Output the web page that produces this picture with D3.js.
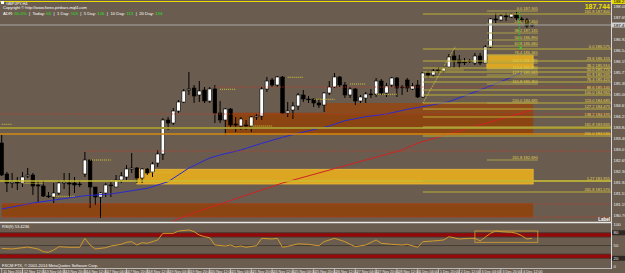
<!DOCTYPE html>
<html>
<head>
<meta charset="utf-8">
<script src="https://cdn.jsdelivr.net/npm/d3@7"></script>
<style>
  body { margin: 0; background: #6a5d4f; overflow: hidden; }
  svg { display: block; }
  text { font-family: "Liberation Sans", Arial, sans-serif; }
</style>
</head>
<body>
<div id="plot"></div>
<script>
// GBPJPY H4 candles
var opens  = [183.285,182.200,181.885,181.920,181.885,182.130,182.165,181.815,181.780,181.430,181.395,181.535,181.885,181.885,181.885,181.850,182.200,182.690,181.745,181.395,181.535,181.815,181.745,181.990,182.095,182.375,182.410,182.060,182.375,182.270,182.585,182.900,184.090,183.985,184.405,184.720,185.140,185.210,184.965,185.140,184.755,185.175,184.335,184.090,184.475,183.950,183.880,183.915,183.880,184.195,184.230,185.175,185.490,185.315,185.595,184.335,184.440,184.580,184.965,184.825,184.825,184.685,184.615,185.035,185.245,185.595,185.315,184.965,185.175,184.755,184.860,185.000,185.000,185.455,185.035,185.315,185.560,185.245,185.490,185.175,185.315,184.895,185.735,185.665,185.840,185.805,185.945,186.330,186.190,186.120,186.155,186.085,186.330,186.085,186.645,187.625,187.590,187.730,187.695,187.765,187.625,187.590,187.415];
var highs  = [183.565,182.270,182.235,182.095,182.270,182.410,182.235,181.990,181.990,181.570,181.885,181.990,182.235,182.235,182.095,181.990,182.970,182.725,181.745,181.570,181.885,181.920,182.165,182.270,182.515,182.935,182.445,182.410,182.410,182.620,183.040,184.160,184.195,184.510,184.790,185.175,185.770,185.315,185.455,185.245,185.245,185.315,184.755,184.510,184.510,184.195,184.195,184.090,184.230,184.300,185.245,185.595,185.560,185.630,185.630,184.720,184.720,185.035,185.140,184.930,184.860,184.825,185.070,185.455,185.735,185.630,185.420,185.245,185.210,184.965,185.070,185.175,185.560,185.525,185.385,185.595,185.595,185.315,185.560,185.385,185.490,185.770,185.805,185.875,185.945,185.980,186.400,186.540,186.365,186.260,186.225,186.435,186.435,186.715,187.660,187.835,187.800,187.835,187.835,187.870,187.695,187.660,187.485];
var lows   = [182.130,181.570,181.710,181.640,181.745,182.060,181.465,181.220,181.395,181.360,181.185,181.465,181.675,181.395,181.535,181.745,182.095,181.010,181.115,180.660,181.395,181.395,181.745,181.885,181.990,182.235,181.885,181.885,182.165,182.095,182.445,182.690,183.740,183.915,184.335,184.685,184.965,184.685,184.720,184.685,184.685,183.985,183.985,183.565,183.810,183.670,183.740,183.740,183.670,184.090,184.090,185.070,185.245,185.245,184.300,184.195,184.125,184.440,184.720,184.685,184.545,184.510,184.370,184.965,185.210,185.245,184.860,184.860,184.615,184.685,184.685,184.860,184.895,184.965,184.895,185.245,184.895,184.965,185.070,185.140,184.860,184.860,185.560,185.595,185.735,185.735,185.910,185.910,185.910,186.015,186.085,186.015,186.015,186.085,186.610,187.485,187.555,187.555,187.660,187.555,187.520,187.310,187.345];
var closes = [182.165,181.885,181.920,181.885,182.095,182.165,181.780,181.780,181.430,181.430,181.535,181.885,181.920,181.850,181.815,181.850,182.690,181.745,181.395,181.535,181.815,181.815,181.990,182.130,182.375,182.410,182.060,182.375,182.235,182.550,182.900,184.090,183.985,184.405,184.720,185.105,185.175,184.930,185.105,184.755,185.175,184.335,184.090,184.475,183.915,183.915,184.125,183.915,184.195,184.230,185.175,185.455,185.315,185.595,184.335,184.405,184.580,184.965,184.825,184.825,184.685,184.615,185.035,185.245,185.595,185.315,184.965,185.175,184.755,184.895,185.000,185.000,185.455,185.035,185.280,185.560,185.210,185.245,185.210,185.280,184.895,185.735,185.665,185.805,185.840,185.910,186.295,186.155,186.085,186.120,186.155,186.330,186.085,186.645,187.625,187.590,187.730,187.730,187.800,187.660,187.625,187.380,187.415];

// time axis labels (one every 4 bars)
var timeLabels = ["11 Nov 2014","12 Nov 12:00","13 Nov 04:00","13 Nov 20:00","14 Nov 12:00","17 Nov 04:00","17 Nov 20:00","18 Nov 12:00","19 Nov 04:00","19 Nov 20:00","20 Nov 12:00","21 Nov 04:00","21 Nov 20:00","24 Nov 12:00","25 Nov 04:00","25 Nov 20:00","26 Nov 12:00","27 Nov 04:00","27 Nov 20:00","28 Nov 12:00","1 Dec 04:00","1 Dec 20:00","2 Dec 12:00","3 Dec 04:00","3 Dec 20:00","4 Dec 12:00"];

// price axis labels
var priceTicks = [188.080,187.695,187.310,186.925,186.540,186.155,185.770,185.385,185.000,184.615,184.230,183.845,183.460,183.075,182.690,182.305,181.920,181.535,181.150,180.765];

// moving averages, points read at some bars
var blueIdx = [0,6,16,21,28,32,36,40,42,46,50,54,57,63,66,70,74,78,82,86,92,96,100];
var blueVal = [180.975,181.185,181.440,181.500,181.700,181.930,182.410,182.760,182.865,183.040,183.275,183.485,183.625,183.880,184.065,184.205,184.300,184.465,184.590,184.730,185.140,185.430,185.745];
var redIdx = [33,38,54,77,80,102];
var redVal = [180.555,180.905,181.885,183.040,183.285,184.440];

// RSI(9)
var rsiIdx = [0,2,4,5,7,8,9,10,11,13,15,16,17,18,20,21,23,24,25,26,27,28,30,31,33,34,36,37,38,39,40,41,43,44,45,46,47,49,50,52,53,54,55,57,59,61,62,64,66,67,68,70,72,73,75,77,78,80,81,83,85,86,88,90,91,92,94,95,96,98,99,100,101,102];
var rsiVal = [43.5,41.9,45,46.6,41.9,35.5,34.1,39.5,47.3,45.9,45.9,67,51.3,41.9,45,48.9,52.9,57.6,59.1,51.3,56.7,55.3,63.1,78.8,78.8,84.2,86.6,82.6,74.8,70.8,68.5,51.3,48.9,51.3,46.6,48.9,45.9,49.6,67,65.4,67,45.9,48.2,54,52.9,49.6,59.1,67,59.1,52.9,47.3,51.3,63.1,55.3,52.9,51.3,52.9,45.9,59.1,60.7,63.1,70.8,65.4,67,67,60.7,78.8,84.2,82.6,81.2,78.8,73.2,65.4,67];
var rsiLevels = [80,70,50,30,20];

// zones (rectangles)
var zoneFrom = [0,43,62,26,93.3];
var zoneTo   = [102.2,102.2,102.2,102.2,102.2];
var zoneHi   = [181.175,184.346,184.685,182.365,186.365];
var zoneLo   = [180.685,183.565,184.346,181.850,185.900];
var zoneKind = ["brown","brown","brown2","gold","gold"];

// full width lines
var hLinePrice = [183.810,183.600,181.955];
var hLineKind  = ["olive","orange","yellow"];
var dotPrice = [185.245,184.300,183.005,181.150,180.695];
var dotFrom  = [41,0,16,0,0];

// fibonacci sets
var fibAPrice = [187.800,186.575,186.155,185.910,185.770,185.595,185.420,185.140,184.965,184.685,184.475,184.195,183.845,183.530,181.955,181.570];
var fibARatio = ["161.8","0.0","23.6","38.2","50.0","61.8","76.4","88.6","100.0","113.0","127.2","138.2","161.8","200.0","1.27","261.8"];
var fibBPrice = [187.905,187.450,187.135,186.890,186.680,186.365,186.085,185.840,185.665,185.350,184.685,182.690];
var fibBRatio = ["0.0","23.6","38.2","50.0","61.8","76.4","100.0","113.0","127.2","161.8","200.0","261.8"];

// short dotted levels
var segFrom  = [0,4,10,17,21,29,42,48,55,60,67,72,84];
var segTo    = [2,8,14,21,25,33,45,52,58,64,70,76,89];
var segPrice = [183.940,181.875,181.420,182.690,181.960,182.260,185.165,183.880,185.585,184.815,185.350,184.990,185.840];

var topLine = 188.238;
var bigPrice = "187.744";
var adrParts = [["ADR: ","60.0%"],["  |  Today: ","66"],["  |  1 Day: ","103"],["  |  5 Day: ","106"],["  |  10 Day: ","113"],["  |  20 Day: ","134"]];

// ---------------------------------------------------------------
var width = 625, height = 273;
var right = 611, mainBot = 222;
var colors = {brown: "#8b4513", brown2: "#8e4a1a", gold: "#dca522",
              olive: "#a39432", orange: "#d48a12", yellow: "#c9be32"};

var x = d3.scaleLinear().domain([0, 102]).range([1.7, 532.1]);
var y = d3.scaleLinear().domain([188.29, 180.52]).range([0, mainBot]);
var yr = d3.scaleLinear().domain([0, 100]).range([266.8, 224.3]);

var svg = d3.select("#plot").append("svg")
    .attr("width", width)
    .attr("height", height);

svg.append("rect").attr("width", width).attr("height", height).attr("fill", "#6a5d4f");

svg.append("clipPath").attr("id", "main")
  .append("rect").attr("width", right).attr("height", mainBot);

var g = svg.append("g").attr("clip-path", "url(#main)");

// zones
g.selectAll(".zone").data(zoneFrom).enter().append("rect")
    .attr("x", function(d, i) { return x(d); })
    .attr("width", function(d, i) { return x(zoneTo[i]) - x(d); })
    .attr("y", function(d, i) { return y(zoneHi[i]); })
    .attr("height", function(d, i) { return y(zoneLo[i]) - y(zoneHi[i]); })
    .attr("fill", function(d, i) { return colors[zoneKind[i]]; })
    .attr("stroke", function(d, i) { return zoneKind[i] == "gold" ? "#f0bc3a" : "none"; })
    .attr("stroke-width", 0.8);

// candles
var idx = d3.range(opens.length);
g.selectAll(".wick").data(idx).enter().append("line")
    .attr("x1", function(i) { return x(i); })
    .attr("x2", function(i) { return x(i); })
    .attr("y1", function(i) { return y(highs[i]); })
    .attr("y2", function(i) { return y(lows[i]); })
    .attr("stroke", "#000").attr("stroke-width", 1);

g.selectAll(".body").data(idx).enter().append("rect")
    .attr("x", function(i) { return x(i) - 1.8; })
    .attr("width", 3.6)
    .attr("y", function(i) { return y(Math.max(opens[i], closes[i])); })
    .attr("height", function(i) { return Math.max(0.8, Math.abs(y(opens[i]) - y(closes[i]))); })
    .attr("fill", function(i) { return closes[i] > opens[i] ? "#fff" : "#000"; })
    .attr("stroke", "#000").attr("stroke-width", 0.6);

// moving averages
var line = d3.line().x(function(d) { return x(d[0]); }).y(function(d) { return y(d[1]); });
g.append("path").datum(blueIdx.map(function(d, i) { return [d, blueVal[i]]; }))
    .attr("d", line).attr("fill", "none").attr("stroke", "#2a2ad0").attr("stroke-width", 1);
g.append("path").datum(redIdx.map(function(d, i) { return [d, redVal[i]]; }))
    .attr("d", line).attr("fill", "none").attr("stroke", "#d02222").attr("stroke-width", 1);

// full width lines
g.selectAll(".hl").data(hLinePrice).enter().append("line")
    .attr("x1", 0).attr("x2", right)
    .attr("y1", function(d) { return y(d); }).attr("y2", function(d) { return y(d); })
    .attr("stroke", function(d, i) { return colors[hLineKind[i]]; })
    .attr("stroke-width", function(d, i) { return hLineKind[i] == "olive" ? 2 : 1.3; });

g.selectAll(".dl").data(dotPrice).enter().append("line")
    .attr("x1", function(d, i) { return x(dotFrom[i]); }).attr("x2", right)
    .attr("y1", function(d) { return y(d); }).attr("y2", function(d) { return y(d); })
    .attr("stroke", "#c83a2a").attr("stroke-width", 1).attr("stroke-dasharray", "1,1.5");

// short dotted levels
g.selectAll(".seg").data(segPrice).enter().append("line")
    .attr("x1", function(d, i) { return x(segFrom[i]); })
    .attr("x2", function(d, i) { return x(segTo[i]); })
    .attr("y1", function(d) { return y(d); }).attr("y2", function(d) { return y(d); })
    .attr("stroke", "#d6c838").attr("stroke-width", 1).attr("stroke-dasharray", "1,1");

// fib A (long)
g.selectAll(".fa").data(fibAPrice).enter().append("line")
    .attr("x1", x(81)).attr("x2", right)
    .attr("y1", function(d) { return y(d); }).attr("y2", function(d) { return y(d); })
    .attr("stroke", "#bcae3a").attr("stroke-width", 1);
g.selectAll(".fat").data(fibAPrice).enter().append("text")
    .attr("x", right - 1).attr("y", function(d) { return y(d) - 1; })
    .attr("text-anchor", "end").attr("font-size", 4).attr("fill", "#e4d650")
    .text(function(d, i) { return fibARatio[i] + " " + d.toFixed(3); });

// fib B (short)
g.selectAll(".fb").data(fibBPrice).enter().append("line")
    .attr("x1", x(93.3)).attr("x2", x(103.1))
    .attr("y1", function(d) { return y(d); }).attr("y2", function(d) { return y(d); })
    .attr("stroke", "#a89e48").attr("stroke-width", 1);
g.selectAll(".fbt").data(fibBPrice).enter().append("text")
    .attr("x", x(103.1)).attr("y", function(d) { return y(d) - 1; })
    .attr("text-anchor", "end").attr("font-size", 4).attr("fill", "#e0d250")
    .text(function(d, i) { return fibBRatio[i] + " " + d.toFixed(3); });

// zigzag and marker
g.append("path").datum([[81, 184.69], [87.2, 186.65]])
    .attr("d", line).attr("fill", "none").attr("stroke", "#d8cc40")
    .attr("stroke-width", 1).attr("stroke-dasharray", "1,1");
g.append("line").attr("x1", x(99.6)).attr("x2", x(99.6))
    .attr("y1", y(187.87)).attr("y2", y(186.61))
    .attr("stroke", "#22c022").attr("stroke-dasharray", "2,1");
g.append("rect").attr("x", x(99.6)).attr("y", y(186.61) - 1).attr("width", 2).attr("height", 2).attr("fill", "#22e022");

// top line and bid line
g.append("line").attr("x1", 0).attr("x2", right).attr("y1", y(topLine)).attr("y2", y(topLine))
    .attr("stroke", "#e8dc00").attr("stroke-width", 1.2);
var bid = closes[closes.length - 1];
g.append("line").attr("x1", 0).attr("x2", right).attr("y1", y(bid)).attr("y2", y(bid))
    .attr("stroke", "#a8a8a8").attr("stroke-width", 1);

// "Label"
svg.append("text").attr("x", right - 1).attr("y", 220.5).attr("text-anchor", "end")
    .attr("font-size", 4.5).attr("font-weight", "bold").attr("fill", "#fff").text("Label");

// header texts
svg.append("rect").attr("x", 1).attr("y", 1).attr("width", 3).attr("height", 3).attr("fill", "#fff");
svg.append("text").attr("x", 6).attr("y", 4.5).attr("font-size", 4).attr("fill", "#fff").text("GBPJPY,H4");
svg.append("text").attr("x", 3).attr("y", 9).attr("font-size", 4).attr("fill", "#fff")
    .text("Copyright © http://www.forex-pinbars-mql4.com");
var adr = svg.append("text").attr("x", 3).attr("y", 15).attr("font-size", 4.3);
adrParts.forEach(function(p) {
  adr.append("tspan").attr("fill", "#fff").attr("xml:space", "preserve").text(p[0]);
  adr.append("tspan").attr("fill", "#22e022").text(p[1]);
});
svg.append("text").attr("x", right - 1).attr("y", 8.5).attr("text-anchor", "end")
    .attr("font-size", 7).attr("font-weight", "bold").attr("fill", "#f0e000").text(bigPrice);

// separator between panels
svg.append("line").attr("x1", 0).attr("x2", right).attr("y1", 222.5).attr("y2", 222.5)
    .attr("stroke", "#e8e8e8").attr("stroke-width", 1.3);

// RSI panel
var rg = svg.append("g");
rg.append("rect").attr("x", 0).attr("width", right)
    .attr("y", yr(80)).attr("height", yr(70) - yr(80)).attr("fill", "#960808");
rg.append("rect").attr("x", 0).attr("width", right)
    .attr("y", yr(30)).attr("height", yr(20) - yr(30)).attr("fill", "#960808");
rg.selectAll(".lv").data(rsiLevels).enter().append("line")
    .attr("x1", 0).attr("x2", right)
    .attr("y1", function(d) { return yr(d); }).attr("y2", function(d) { return yr(d); })
    .attr("stroke", "#3c3530").attr("stroke-width", 0.8);
var rline = d3.line().x(function(d) { return x(d[0]); }).y(function(d) { return yr(d[1]); });
rg.append("path").datum(rsiIdx.map(function(d, i) { return [d, rsiVal[i]]; }))
    .attr("d", rline).attr("fill", "none").attr("stroke", "#d29a2e").attr("stroke-width", 1);
rg.append("rect").attr("x", x(91)).attr("width", x(103.1) - x(91))
    .attr("y", yr(84.2)).attr("height", yr(57.6) - yr(84.2))
    .attr("fill", "none").attr("stroke", "#d6a030").attr("stroke-width", 0.8);
rg.append("text").attr("x", 2).attr("y", 228).attr("font-size", 4).attr("fill", "#fff").text("RSI(9) 53.4236");
rg.append("text").attr("x", 2).attr("y", 266.5).attr("font-size", 4).attr("fill", "#fff")
    .text("FXCM FTX, © 2001-2014 MetaQuotes Software Corp.");

// bottom frame
svg.append("line").attr("x1", 0).attr("x2", right).attr("y1", 268.5).attr("y2", 268.5)
    .attr("stroke", "#cfcfcf").attr("stroke-width", 0.8);

// right axis
svg.append("line").attr("x1", right + 0.5).attr("x2", right + 0.5).attr("y1", 0).attr("y2", 269)
    .attr("stroke", "#d8d8d8").attr("stroke-width", 1);
var ra = svg.append("g");
// tick labels that would sit under the price boxes are hidden, as the terminal does
var shownTicks = priceTicks.filter(function(d) {
  return Math.abs(y(d) - y(bid)) > 4.5 && Math.abs(y(d) - y(topLine)) > 4.5;
});
ra.selectAll(".pt").data(shownTicks).enter().append("text")
    .attr("x", right + 2.5).attr("y", function(d) { return y(d) + 1.5; })
    .attr("font-size", 4.3).attr("fill", "#eee")
    .text(function(d) { return d.toFixed(3); });
ra.append("rect").attr("x", right + 1).attr("y", y(topLine) - 1.5).attr("width", 14).attr("height", 4).attr("fill", "#e8dc00");
ra.append("text").attr("x", right + 2.5).attr("y", y(topLine) + 1.8).attr("font-size", 4.3).attr("fill", "#000").text(topLine.toFixed(3));
ra.append("rect").attr("x", right + 1).attr("y", y(bid) - 2.5).attr("width", 14).attr("height", 5).attr("fill", "#d0d0d0");
ra.append("text").attr("x", right + 2.5).attr("y", y(bid) + 1.5).attr("font-size", 4.3).attr("fill", "#000").text(bid.toFixed(3));

// RSI axis labels
var rsiTicks = [100, 80, 50, 20, 0];
ra.selectAll(".rt").data(rsiTicks).enter().append("rect")
    .attr("x", right + 1).attr("y", function(d) { return yr(d) - 2.5; })
    .attr("width", 14).attr("height", 5)
    .attr("fill", function(d) { return d == 80 || d == 20 ? "#2e2824" : "none"; });
ra.selectAll(".rtt").data(rsiTicks).enter().append("text")
    .attr("x", right + 2.5).attr("y", function(d) { return yr(d) + 1.5; })
    .attr("font-size", 4.3).attr("fill", "#eee").text(function(d) { return d; });

// time axis
var tx = svg.append("g");
tx.selectAll(".tk").data(timeLabels).enter().append("line")
    .attr("x1", function(d, i) { return x(i * 4); }).attr("x2", function(d, i) { return x(i * 4); })
    .attr("y1", 268.5).attr("y2", 273)
    .attr("stroke", "#ddd").attr("stroke-width", 0.6);
tx.selectAll(".tl").data(timeLabels).enter().append("text")
    .attr("x", function(d, i) { return x(i * 4) + 1.5; }).attr("y", 272.5)
    .attr("font-size", 3.6).attr("fill", "#eee")
    .text(function(d) { return d; });
</script>
</body>
</html>
